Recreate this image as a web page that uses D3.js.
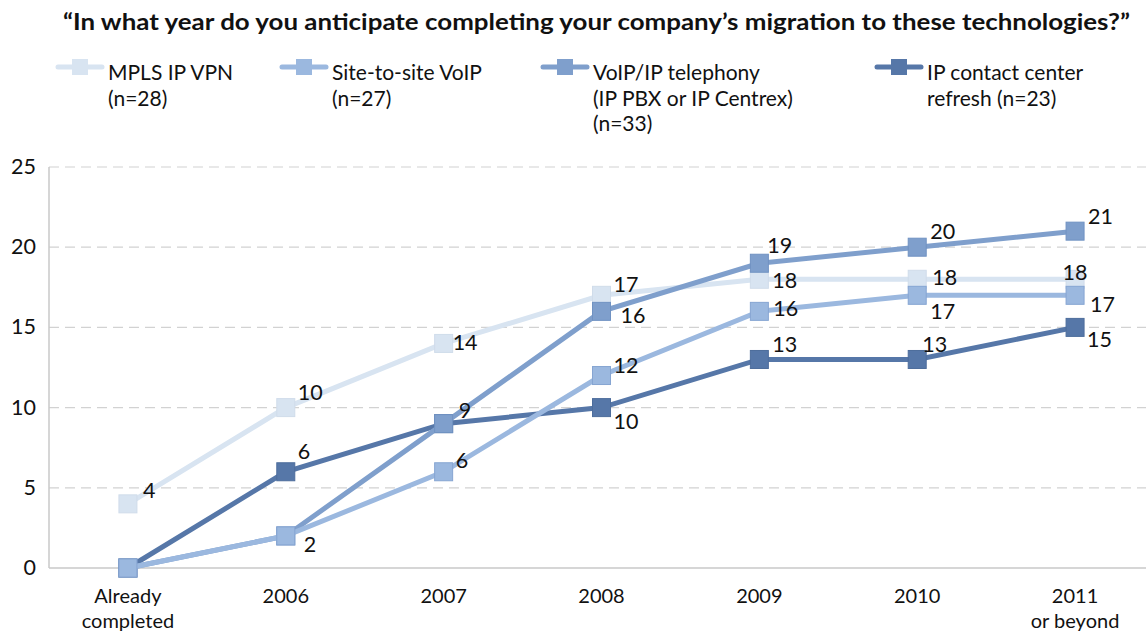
<!DOCTYPE html>
<html>
<head>
<meta charset="utf-8">
<script src="https://cdn.jsdelivr.net/npm/d3@7"></script>
<style>
  body { margin: 0; background: #fff; }
  svg text { font-family: Lato, "Open Sans", sans-serif; fill: #111; }
</style>
</head>
<body>
<div id="chart"></div>
<script>
// categories and values
const categories = ["Already completed", "2006", "2007", "2008", "2009", "2010", "2011 or beyond"];
const mplsValues    = [4, 10, 14, 17, 18, 18, 18];
const siteValues    = [0, 2, 6, 12, 16, 17, 17];
const voipValues    = [0, 2, 9, 16, 19, 20, 21];
const contactValues = [0, 6, 9, 10, 13, 13, 15];
const seriesNames = ["MPLS IP VPN", "Site-to-site VoIP", "VoIP/IP telephony", "IP contact center refresh"];
const legendLines = [
  ["MPLS IP VPN", "(n=28)"],
  ["Site-to-site VoIP", "(n=27)"],
  ["VoIP/IP telephony", "(IP PBX or IP Centrex)", "(n=33)"],
  ["IP contact center", "refresh (n=23)"]
];
const yTicks = [0, 5, 10, 15, 20, 25];

// styling
const colors  = ["#d8e4f1", "#9bb8df", "#7f9fcc", "#5677a8"];
const strokes = ["#d0dcea", "#86a5d2", "#7092c2", "#4d6d9c"];
// label offsets (dx, dy) per point, null = no label
const labelOffsets = [
  [[15, -6], [12, -8], [9, 7], [12, -3], [13, 9], [15, 6], ["c", 1]],
  [null, [18, 16], [12, -4], [12, -3], [14, 5], [13, 24], [15, 17]],
  [null, null, [15, -6], [19, 12], [8, -10], [13, -8], [13, -7]],
  [null, [12, -13], null, [12, 21], [13, -7], [5, -7], [12, 20]]
];

const allValues = [mplsValues, siteValues, voipValues, contactValues];

const width = 1146, height = 633;
const svg = d3.select("#chart").append("svg")
  .attr("width", width).attr("height", height);

// title
svg.append("text")
  .attr("x", 63).attr("y", 30)
  .attr("textLength", 1067).attr("lengthAdjust", "spacingAndGlyphs")
  .style("font-weight", "bold").style("font-size", "22px")
  .text("\u201CIn what year do you anticipate completing your company\u2019s migration to these technologies?\u201D");

// legend
const legendX = [58, 282, 543, 877];
const legend = svg.append("g");
legendLines.forEach((lines, i) => {
  let g = legend.append("g").attr("transform", `translate(${legendX[i]},67)`);
  g.append("line").attr("x1", 0).attr("x2", 44).attr("y1", 0).attr("y2", 0)
    .attr("stroke", colors[i]).attr("stroke-width", 5).attr("stroke-linecap", "round");
  g.append("rect").attr("x", 14).attr("y", -8).attr("width", 16).attr("height", 16)
    .attr("fill", colors[i]);
  let txt = g.append("text").attr("x", 50).attr("y", 13).style("font-size", "21px");
  lines.forEach((t, j) => {
    txt.append("tspan").attr("x", 50).attr("dy", j === 0 ? 0 : 25.5).text(t);
  });
});

// scales
const x = d3.scalePoint().domain(categories).range([49, 1154]).padding(0.5);
const y = d3.scaleLinear().domain([0, 25]).range([568, 167]);

// gridlines
svg.append("g").selectAll("line")
  .data(yTicks.filter(d => d > 0))
  .enter().append("line")
  .attr("x1", 49).attr("x2", 1146)
  .attr("y1", d => y(d)).attr("y2", d => y(d))
  .attr("stroke", "#d2d2d2").attr("stroke-width", 1.2)
  .attr("stroke-dasharray", "10,6");

// axes lines
svg.append("line").attr("x1", 49).attr("x2", 49).attr("y1", y(25)).attr("y2", y(0))
  .attr("stroke", "#c8c8c8").attr("stroke-width", 1.5);
svg.append("line").attr("x1", 49).attr("x2", 1146).attr("y1", y(0)).attr("y2", y(0))
  .attr("stroke", "#c8c8c8").attr("stroke-width", 1.5);

// y labels
svg.append("g").selectAll("text")
  .data(yTicks).enter().append("text")
  .attr("x", 36).attr("y", d => y(d) + 7)
  .attr("text-anchor", "end").style("font-size", "21.5px")
  .text(d => d);

// x labels
categories.forEach(c => {
  let parts = c === "Already completed" ? ["Already", "completed"]
    : c === "2011 or beyond" ? ["2011", "or beyond"] : [c];
  let txt = svg.append("text").attr("x", x(c)).attr("y", 603)
    .attr("text-anchor", "middle").style("font-size", "20px");
  parts.forEach((p, j) => {
    txt.append("tspan").attr("x", x(c)).attr("dy", j === 0 ? 0 : 24.5).text(p);
  });
});

// lines, drawn bottom to top
const order = [0, 3, 2, 1];
const line = d3.line().x((d, i) => x(categories[i])).y(d => y(d));

order.forEach(s => {
  let g = svg.append("g").attr("class", "series");
  g.append("path").datum(allValues[s])
    .attr("d", line).attr("fill", "none")
    .attr("stroke", colors[s]).attr("stroke-width", 5);
  g.selectAll("rect").data(allValues[s]).enter().append("rect")
    .attr("x", (d, i) => x(categories[i]) - 9)
    .attr("y", d => y(d) - 9)
    .attr("width", 18).attr("height", 18)
    .attr("fill", colors[s]).attr("stroke", strokes[s]).attr("stroke-width", 1);
});

// value labels
order.forEach(s => {
  allValues[s].forEach((v, i) => {
    let off = labelOffsets[s][i];
    if (!off) return;
    let cx = x(categories[i]), cy = y(v);
    let t = svg.append("text").style("font-size", "21.5px").text(v);
    if (off[0] === "c") {
      t.attr("x", cx).attr("y", cy + off[1]).attr("text-anchor", "middle");
    } else {
      t.attr("x", cx + off[0]).attr("y", cy + off[1]);
    }
  });
});
</script>
</body>
</html>
